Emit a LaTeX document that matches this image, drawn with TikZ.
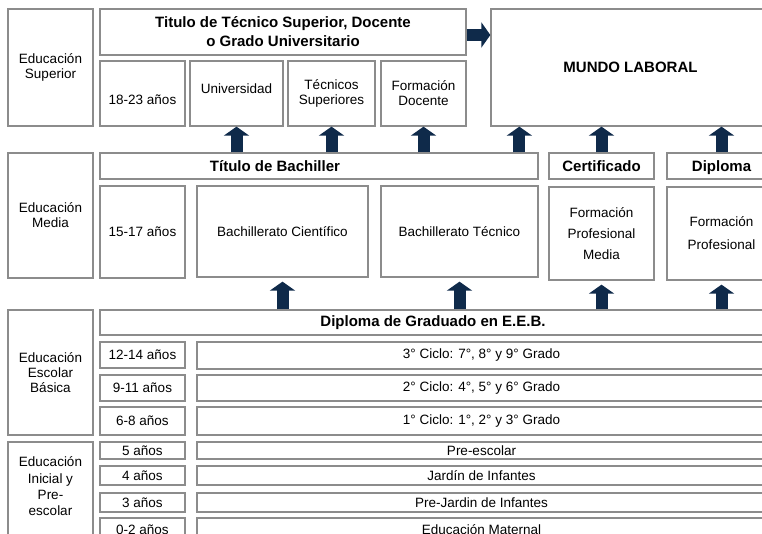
\documentclass[tikz,border=0pt]{standalone}
\usepackage{fontspec}
\setmainfont{Liberation Sans}
\usetikzlibrary{arrows.meta}
\definecolor{azul}{HTML}{0F2A4A}
\definecolor{borde}{HTML}{8C8C8C}

\begin{document}
\begin{tikzpicture}[x=1pt, y=-1pt,
    caja/.style ={draw=borde, line width=1.3pt, inner sep=0pt, align=center,
                  font=\fontsize{13.5}{15}\selectfont},
    titulo/.style ={caja, font=\fontsize{15}{19}\selectfont\bfseries},
    flecha/.style ={azul, line width=12pt, -{Triangle[width=25pt,length=9pt]}}]
   \fill[white] (0,0) rectangle (762,534);
   \clip (0,0) rectangle (762,534);
   % Educacion Superior
   \node[caja, minimum width=85pt, minimum height=117pt] (esup) at (50.5,67.5) {Educación\\Superior};
   \node[titulo, minimum width=366pt, minimum height=46pt] (titsup) at (283,32) {Titulo de Técnico Superior, Docente\\o Grado Universitario};
   \node[caja, minimum width=85pt, minimum height=65pt, text height=25pt, text depth=3pt] (a1823) at (142.5,93.5) {18-23 años};
   \node[caja, minimum width=93pt, minimum height=65pt, text height=6pt, text depth=6pt] (univ) at (236.5,93.5) {Universidad};
   \node[caja, minimum width=87pt, minimum height=65pt] (tecsup) at (331.5,93.5) {Técnicos\\Superiores};
   \node[caja, minimum width=85pt, minimum height=65pt] (fdoc) at (423.5,93.5) {Formación\\Docente};
   \node[titulo, minimum width=279pt, minimum height=117pt] (mundo) at (630.5,67.5) {MUNDO LABORAL};
   % Educacion Media
   \node[caja, minimum width=85pt, minimum height=125pt] (emed) at (50.5,215.5) {Educación\\Media};
   \node[titulo, minimum width=438pt, minimum height=26pt] (tbach) at (319,166) {Título de Bachiller\hspace*{88pt}};
   \node[caja, minimum width=85pt, minimum height=92pt] (a1517) at (142.5,232) {15-17 años};
   \node[caja, minimum width=171pt, minimum height=91pt] (bcien) at (282.5,231.5) {Bachillerato Científico};
   \node[caja, minimum width=157pt, minimum height=91pt] (btec) at (459.5,231.5) {Bachillerato Técnico};
   \node[titulo, minimum width=105pt, minimum height=26pt] (cert) at (601.5,166) {Certificado};
   \node[caja, minimum width=105pt, minimum height=93pt] (fpm) at (601.5,233.5) {Formación\\[6pt]Profesional\\[6pt]Media};
   \node[titulo, minimum width=109pt, minimum height=26pt, text height=11pt, text depth=0pt] (dipl) at (721.5,166) {Diploma};
   \node[caja, minimum width=109pt, minimum height=93pt] (fp) at (721.5,233.5) {Formación\\[8pt]Profesional};
   % Educacion Escolar Basica
   \node[caja, minimum width=85pt, minimum height=125pt] (eeb) at (50.5,372.5) {Educación\\Escolar\\Básica};
   \node[titulo, minimum width=666pt, minimum height=25pt] (dgrad) at (433,322.5) {Diploma de Graduado en E.E.B.};
   \node[caja, minimum width=85pt, minimum height=26pt] (a1214) at (142.5,355) {12-14 años};
   \node[caja, minimum width=569pt, minimum height=27pt] (c3) at (481.5,355.5) {3° Ciclo: 7°, 8° y 9° Grado};
   \node[caja, minimum width=85pt, minimum height=26pt] (a911) at (142.5,388) {9-11 años};
   \node[caja, minimum width=569pt, minimum height=26pt] (c2) at (481.5,388) {2° Ciclo: 4°, 5° y 6° Grado};
   \node[caja, minimum width=85pt, minimum height=28pt] (a68) at (142.5,421) {6-8 años};
   \node[caja, minimum width=569pt, minimum height=28pt] (c1) at (481.5,421) {1° Ciclo: 1°, 2° y 3° Grado};
   % Educacion Inicial y Pre-escolar
   \node[caja, minimum width=85pt, minimum height=103pt] (einic) at (50.5,493.5) {};
   \node[caja, draw=none, font=\fontsize{13.5}{16.3}\selectfont] (einictxt) at (50.5,486.5) {Educación\\Inicial y\\Pre-\\escolar};
   \node[caja, minimum width=85pt, minimum height=17pt] (a5) at (142.5,450.5) {5 años};
   \node[caja, minimum width=569pt, minimum height=17pt] (pesc) at (481.5,450.5) {Pre-escolar};
   \node[caja, minimum width=85pt, minimum height=19pt] (a4) at (142.5,475.5) {4 años};
   \node[caja, minimum width=569pt, minimum height=19pt] (jard) at (481.5,475.5) {Jardín de Infantes};
   \node[caja, minimum width=85pt, minimum height=19pt] (a3) at (142.5,502.5) {3 años};
   \node[caja, minimum width=569pt, minimum height=19pt] (pjard) at (481.5,502.5) {Pre-Jardin de Infantes};
   \node[caja, minimum width=85pt, minimum height=24pt] (a02) at (142.5,530) {0-2 años};
   \node[caja, minimum width=569pt, minimum height=24pt] (emat) at (481.5,530) {Educación Maternal};
   % flechas
   \draw[flecha] ([yshift=-3pt]titsup.east) -- ([yshift=-3pt]titsup.east -| mundo.west);
   \draw[flecha] (tbach.north -| univ.south) -- (univ.south);
   \draw[flecha] (tbach.north -| tecsup.south) -- (tecsup.south);
   \draw[flecha] (tbach.north -| fdoc.south) -- (fdoc.south);
   \draw[flecha] ([xshift=29pt]mundo.south west |- tbach.north) -- ([xshift=29pt]mundo.south west);
   \draw[flecha] (cert.north) -- (cert.north |- mundo.south);
   \draw[flecha] (dipl.north) -- (dipl.north |- mundo.south);
   \draw[flecha, shorten >=4pt] (dgrad.north -| bcien.south) -- (bcien.south);
   \draw[flecha, shorten >=4pt] (dgrad.north -| btec.south) -- (btec.south);
   \draw[flecha, shorten >=4pt] (dgrad.north -| fpm.south) -- (fpm.south);
   \draw[flecha, shorten >=4pt] (dgrad.north -| fp.south) -- (fp.south);
\end{tikzpicture}
\end{document}
